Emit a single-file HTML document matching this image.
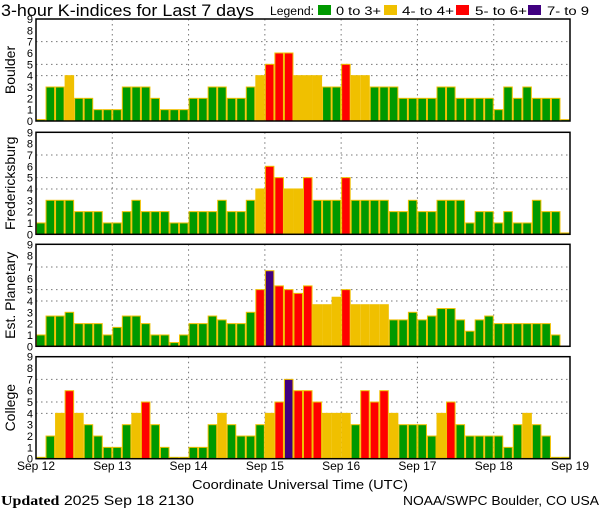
<!DOCTYPE html>
<html><head><meta charset="utf-8"><style>
html,body{margin:0;padding:0;background:#fff;width:600px;height:510px;overflow:hidden}
svg{display:block;font-family:"Liberation Sans",sans-serif}
</style></head><body>
<svg id="chart" width="600" height="510" viewBox="0 0 600 510" xmlns="http://www.w3.org/2000/svg">
<text x="1" y="16" font-size="17" textLength="253" lengthAdjust="spacingAndGlyphs">3-hour K-indices for Last 7 days</text>
<g>
<text x="270" y="15" font-size="11.5" textLength="44" lengthAdjust="spacingAndGlyphs">Legend:</text>
<rect x="318" y="5" width="13" height="10" fill="#009900"/>
<text x="336" y="15" font-size="11.5" textLength="45" lengthAdjust="spacingAndGlyphs">0 to 3+</text>
<rect x="384" y="5" width="13" height="10" fill="#f0c000"/>
<text x="402" y="15" font-size="11.5" textLength="52" lengthAdjust="spacingAndGlyphs">4- to 4+</text>
<rect x="456" y="5" width="13" height="10" fill="#ff0000"/>
<text x="475" y="15" font-size="11.5" textLength="52" lengthAdjust="spacingAndGlyphs">5- to 6+</text>
<rect x="528" y="5" width="13" height="10" fill="#400080"/>
<text x="547" y="15" font-size="11.5" textLength="42" lengthAdjust="spacingAndGlyphs">7- to 9</text>
</g>
<g id="panels"></g>
<text x="300" y="489" font-size="13" text-anchor="middle" textLength="216" lengthAdjust="spacingAndGlyphs">Coordinate Universal Time (UTC)</text>
<text x="1" y="505" font-size="14" textLength="193" lengthAdjust="spacingAndGlyphs"><tspan font-family="Liberation Serif, serif" font-weight="bold">Updated</tspan> 2025 Sep 18 2130</text>
<text x="599" y="505" font-size="13" text-anchor="end" textLength="196" lengthAdjust="spacingAndGlyphs">NOAA/SWPC Boulder, CO USA</text>
</svg>
<script>
const stations = ["Boulder","Fredericksburg","Est. Planetary","College"];
const dayLabels = ["Sep 12","Sep 13","Sep 14","Sep 15","Sep 16","Sep 17","Sep 18","Sep 19"];
const yTicks = [0,1,2,3,4,5,6,7,8,9];
const gridLevels = [4,5,7];
const boulder = [0,3,3,4,2,2,1,1,1,3,3,3,2,1,1,1,2,2,3,3,2,2,3,4,5,6,6,4,4,4,3,3,5,4,4,3,3,3,2,2,2,2,3,3,2,2,2,2,1,3,2,3,2,2,2,0];
const fredericksburg = [1,3,3,3,2,2,2,1,1,2,3,2,2,2,1,1,2,2,2,3,2,2,3,4,6,5,4,4,5,3,3,3,5,3,3,3,3,2,2,3,2,2,3,3,3,1,2,2,1,2,1,1,3,2,2,0];
const planetary = [1,2.67,2.67,3,2,2,2,1,1.67,2.67,2.67,2,1,1,0.33,1,2,2,2.67,2.33,2,2,3,5,6.67,5.33,5,4.67,5.33,3.67,3.67,4.33,5,3.67,3.67,3.67,3.67,2.33,2.33,3,2.33,2.67,3.33,3.33,2.33,1.33,2.33,2.67,2,2,2,2,2,2,1,null];
const college = [0,2,4,6,4,3,2,1,1,3,4,5,3,1,0,0,1,1,3,4,3,2,2,3,4,5,7,6,6,5,4,4,4,3,6,5,6,4,3,3,3,2,4,5,3,2,2,2,2,1,3,4,3,2,0,0];
const series = [boulder,fredericksburg,planetary,college];

const NS="http://www.w3.org/2000/svg";
const X0=36, X1=570, H=102;
const tops=[19,132.3,244.3,356.7];
const nBars=56;
const bw=(X1-X0)/nBars;
function xScale(i){return X0+i*bw;}
function yScale(v,p){return tops[p]+H-v*H/9;}
function color(v){return v>=6.5?"#400080":v>=4.5?"#ff0000":v>=3.5?"#f0c000":"#009900";}
function mk(tag,attrs,parent){const e=document.createElementNS(NS,tag);for(const k in attrs)e.setAttribute(k,attrs[k]);parent.appendChild(e);return e;}
const root=document.getElementById("panels");
stations.forEach((name,p)=>{
  const g=mk("g",{},root);
  
  
  const base=yScale(0,p);
  gridLevels.forEach(l=>{const ln=mk("line",{x1:X0,x2:X1,y1:yScale(l,p),y2:yScale(l,p),stroke:"#777","stroke-dasharray":"1.5,3.5"},g);
    
    });
  for(let d=1;d<7;d++){const x=xScale(d*8);const ln=mk("line",{x1:x,x2:x,y1:tops[p],y2:base,stroke:"#777","stroke-dasharray":"1.5,3.5"},g);
    
    }
  series[p].forEach((v,i)=>{
    if(v===null)return;
    const hv=v===0?0.12:v;
    const y=yScale(hv,p);
    const r=mk("rect",{x:xScale(i)+0.5,y:y,width:bw-1,height:base-y,fill:color(v),stroke:"#f0c000","stroke-width":1},g);
    
    
  });
  const fr=mk("rect",{x:X0,y:tops[p],width:X1-X0,height:H,fill:"none",stroke:"#000","stroke-width":1.5},g);
  
  
  yTicks.forEach(t=>{const tx=mk("text",{x:33,y:yScale(t,p)+4,"font-size":11,"text-anchor":"end"},g);tx.textContent=t;
    
    });
  const yl=mk("text",{x:0,y:0,"font-size":14,"text-anchor":"middle",transform:`translate(15,${tops[p]+H/2}) rotate(-90)`},g);
  yl.textContent=name;
  
  
});
dayLabels.forEach((d,i)=>{const t=mk("text",{x:xScale(i*8),y:470,"font-size":12,"text-anchor":"middle"},root);t.textContent=d;
  
  });
</script>
</body></html>
